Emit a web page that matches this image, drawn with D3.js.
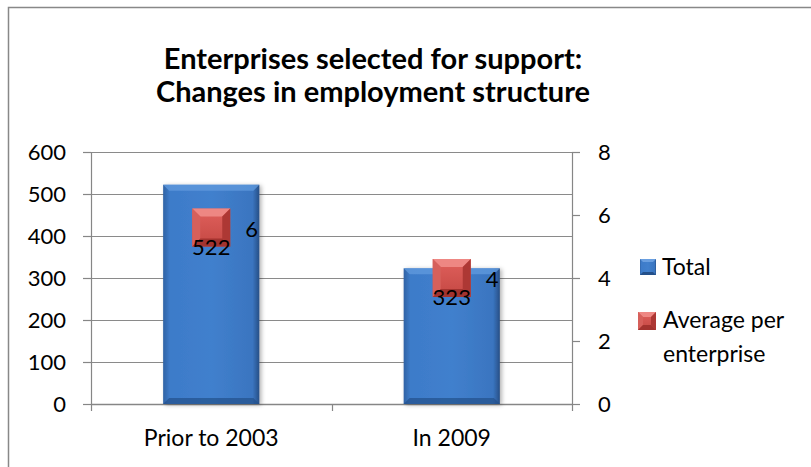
<!DOCTYPE html>
<html>
<head>
<meta charset="utf-8">
<script src="https://cdn.jsdelivr.net/npm/d3@7"></script>
<style>
  body { margin: 0; background: #fff; }
  text { font-family: Lato, "Open Sans", sans-serif; fill: #000; }
</style>
</head>
<body>
<script>
const WIDTH = 811;
const HEIGHT = 467;

// data
var categories = ["Prior to 2003", "In 2009"];
var totals = [522, 323];
var averages = [5.6, 4];
var leftTicks = [0, 100, 200, 300, 400, 500, 600];
var rightTicks = [0, 2, 4, 6, 8];
var titleLines = ["Enterprises selected for support:", "Changes in employment structure"];
var legendItems = ["Total", "Average per enterprise"];

var fmt = d3.format(".0f");

var svg = d3.select("body")
    .append("svg")
    .attr("width", WIDTH)
    .attr("height", HEIGHT);

var defs = svg.append("defs");

// blue bar body: darker at the sides
var gBar = defs.append("linearGradient").attr("id", "barGrad")
    .attr("x1", 0).attr("x2", 1).attr("y1", 0).attr("y2", 0);
gBar.append("stop").attr("offset", "0%").attr("stop-color", "#2f62a4");
gBar.append("stop").attr("offset", "7%").attr("stop-color", "#3d7bc9");
gBar.append("stop").attr("offset", "50%").attr("stop-color", "#4180cd");
gBar.append("stop").attr("offset", "93%").attr("stop-color", "#3a75c0");
gBar.append("stop").attr("offset", "100%").attr("stop-color", "#274f86");

var gRed = defs.append("linearGradient").attr("id", "redGrad")
    .attr("x1", 0).attr("x2", 0).attr("y1", 0).attr("y2", 1);
gRed.append("stop").attr("offset", "0%").attr("stop-color", "#e0605c");
gRed.append("stop").attr("offset", "100%").attr("stop-color", "#c44843");

var shadow = defs.append("filter").attr("id", "shadow")
    .attr("x", "-10%").attr("y", "-10%").attr("width", "130%").attr("height", "130%");
shadow.append("feDropShadow").attr("dx", 2).attr("dy", 1).attr("stdDeviation", 2)
    .attr("flood-color", "#000").attr("flood-opacity", 0.3);

// outer chart border (only top and left show in the crop)
svg.append("path")
    .attr("d", "M8.5," + HEIGHT + "V7.5H" + WIDTH)
    .attr("fill", "none")
    .attr("stroke", "#888")
    .attr("stroke-width", 1.5);

// title, one text per line
svg.append("g")
    .selectAll("text")
    .data(titleLines)
    .join("text")
    .attr("x", 373)
    .attr("y", (d, i) => 69 + i * 33)
    .attr("text-anchor", "middle")
    .style("font-size", "29px")
    .style("font-weight", "bold")
    .text(d => d);

var plot = { left: 91, right: 572, top: 152, bottom: 404 };

var x = d3.scaleBand()
    .domain(categories)
    .range([plot.left, plot.right])
    .paddingInner(0.6)
    .paddingOuter(0.3);

var xOuter = d3.scaleBand()
    .domain(categories)
    .range([plot.left, plot.right]);

var yLeft = d3.scaleLinear()
    .domain([0, 600])
    .range([plot.bottom, plot.top]);

var yRight = d3.scaleLinear()
    .domain([0, 8])
    .range([plot.bottom, plot.top]);

// gridlines
svg.append("g")
    .selectAll("line")
    .data(leftTicks.slice(1))
    .join("line")
    .attr("x1", plot.left)
    .attr("x2", plot.right)
    .attr("y1", d => Math.round(yLeft(d)) + 0.5)
    .attr("y2", d => Math.round(yLeft(d)) + 0.5)
    .attr("stroke", "#8a8a8a")
    .attr("stroke-width", 1);

function styleAxis(g) {
    g.select(".domain").attr("stroke", "#868686").attr("stroke-width", 1.2);
    g.selectAll(".tick line").attr("stroke", "#868686").attr("stroke-width", 1.2);
    g.selectAll(".tick text")
        .style("font-family", "Lato, 'Open Sans', sans-serif")
        .style("font-size", "22px")
        .attr("fill", "#000")
        .attr("dy", "0.36em");
}

// left axis
svg.append("g")
    .attr("transform", "translate(" + plot.left + ",0)")
    .call(d3.axisLeft(yLeft).tickValues(leftTicks).tickSize(8).tickSizeOuter(0).tickPadding(17))
    .call(styleAxis);

// right axis
svg.append("g")
    .attr("transform", "translate(" + plot.right + ",0)")
    .call(d3.axisRight(yRight).tickValues(rightTicks).tickSize(8).tickSizeOuter(0).tickPadding(18))
    .call(styleAxis);

// x axis
var xTickPos = [plot.left, (plot.left + plot.right) / 2, plot.right];
var xa = svg.append("g");
xa.append("line")
    .attr("x1", plot.left).attr("x2", plot.right)
    .attr("y1", plot.bottom + 0.5).attr("y2", plot.bottom + 0.5)
    .attr("stroke", "#868686").attr("stroke-width", 1.5);
xa.selectAll("line.tk")
    .data(xTickPos)
    .join("line")
    .attr("class", "tk")
    .attr("x1", d => Math.round(d) + 0.5).attr("x2", d => Math.round(d) + 0.5)
    .attr("y1", plot.bottom).attr("y2", plot.bottom + 7)
    .attr("stroke", "#868686").attr("stroke-width", 1.2);
xa.selectAll("text")
    .data(categories)
    .join("text")
    .attr("x", d => xOuter(d) + xOuter.bandwidth() / 2)
    .attr("y", 446)
    .attr("text-anchor", "middle")
    .style("font-size", "23px")
    .text(d => d);

// bars
var bw = x.bandwidth();
var bars = svg.append("g")
    .selectAll("g")
    .data(categories)
    .join("g")
    .attr("filter", "url(#shadow)");

bars.append("rect")
    .attr("x", d => x(d))
    .attr("y", (d, i) => yLeft(totals[i]))
    .attr("width", bw)
    .attr("height", (d, i) => plot.bottom - yLeft(totals[i]))
    .attr("fill", "url(#barGrad)");

// bevel on top (lighter) and bottom (darker)
var bev = 6;
bars.append("path")
    .attr("d", (d, i) => {
        var x0 = x(d), x1 = x(d) + bw, y0 = yLeft(totals[i]);
        return "M" + x0 + "," + y0 + "H" + x1 + "L" + (x1 - bev) + "," + (y0 + bev) +
            "H" + (x0 + bev) + "Z";
    })
    .attr("fill", "#5f98dc")
    .attr("opacity", 0.8);
bars.append("path")
    .attr("d", (d) => {
        var x0 = x(d), x1 = x(d) + bw, y1 = plot.bottom;
        return "M" + x0 + "," + y1 + "H" + x1 + "L" + (x1 - bev) + "," + (y1 - bev) +
            "H" + (x0 + bev) + "Z";
    })
    .attr("fill", "#24508a")
    .attr("opacity", 0.7);

// markers for the average series on the right axis
var ms = 38;
var mb = 8;
var markers = svg.append("g")
    .selectAll("g")
    .data(categories)
    .join("g")
    .attr("transform", (d, i) => "translate(" + (xOuter(d) + xOuter.bandwidth() / 2) + "," + yRight(averages[i]) + ")");

function drawMarker(g, s, b) {
    var h = s / 2;
    g.append("rect")
        .attr("x", -h).attr("y", -h).attr("width", s).attr("height", s)
        .attr("fill", "url(#redGrad)");
    g.append("path").attr("d", "M" + -h + "," + -h + "H" + h + "L" + (h - b) + "," + (-h + b) + "H" + (-h + b) + "Z")
        .attr("fill", "#ee8783");
    g.append("path").attr("d", "M" + -h + "," + -h + "V" + h + "L" + (-h + b) + "," + (h - b) + "V" + (-h + b) + "Z")
        .attr("fill", "#d6605b");
    g.append("path").attr("d", "M" + h + "," + -h + "V" + h + "L" + (h - b) + "," + (h - b) + "V" + (-h + b) + "Z")
        .attr("fill", "#ad3834");
    g.append("path").attr("d", "M" + -h + "," + h + "H" + h + "L" + (h - b) + "," + (h - b) + "H" + (-h + b) + "Z")
        .attr("fill", "#a3332f");
}

markers.each(function () { drawMarker(d3.select(this), ms, mb); });

// data labels
markers.append("text")
    .attr("x", 0)
    .attr("y", 27)
    .attr("text-anchor", "middle")
    .style("font-size", "22px")
    .text((d, i) => totals[i]);

markers.append("text")
    .attr("x", 34)
    .attr("y", 9)
    .attr("text-anchor", "start")
    .style("font-size", "22px")
    .text((d, i) => fmt(averages[i]));

// legend
var legend = svg.append("g");
var blueKey = legend.append("g").attr("transform", "translate(648,267)");
blueKey.append("rect").attr("x", -8).attr("y", -8).attr("width", 16).attr("height", 16)
    .attr("fill", "url(#barGrad)");
blueKey.append("path").attr("d", "M-8,-8H8L5,-5H-5Z").attr("fill", "#6a9fe0");
blueKey.append("path").attr("d", "M-8,8H8L5,5H-5Z").attr("fill", "#24508a");
legend.append("text").attr("x", 662).attr("y", 275).style("font-size", "23px").text(legendItems[0]);

var redKey = legend.append("g").attr("transform", "translate(647,321)");
drawMarker(redKey, 18, 5);
legend.append("text")
    .attr("x", 663)
    .attr("y", 328)
    .style("font-size", "23px")
    .selectAll("tspan")
    .data(["Average per", "enterprise"])
    .join("tspan")
    .attr("x", 663)
    .attr("dy", (d, i) => i === 0 ? 0 : 34)
    .text(d => d);
</script>
</body>
</html>
